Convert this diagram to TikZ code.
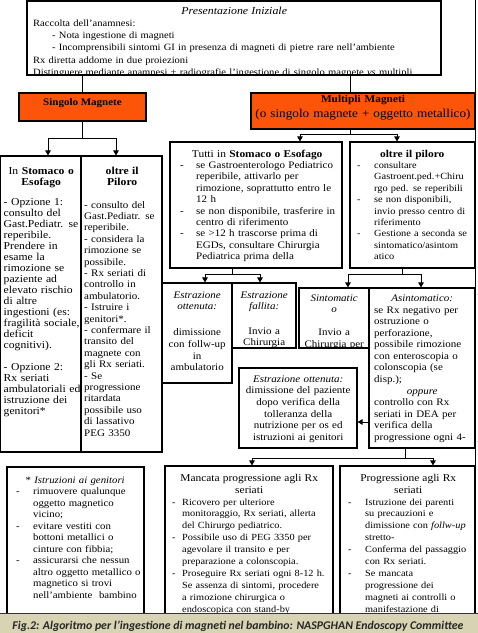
\documentclass[tikz,border=0pt]{standalone}
\usepackage{fontspec}
\setmainfont{Liberation Serif}[FakeStretch=1.1]
\newfontfamily\capfont{Carlito}
\usetikzlibrary{arrows.meta,fit}
\definecolor{orng}{RGB}{252,84,8}
\definecolor{khaki}{RGB}{216,211,178}
\newcommand\fsz[2]{\fontsize{#1}{#2}\selectfont}
\newcommand\jl[2]{\makebox[#1][s]{#2}}
\newcommand\dsh[2]{\makebox[#2][l]{\hspace*{#1}-}}
\begin{document}
\begin{tikzpicture}[x=1pt,y=-1pt,
  bx/.style={draw, line width=1.1pt, inner sep=0pt},
  ln/.style={line width=0.9pt},
  ar/.style={ln, -{Triangle[length=5pt,width=5.5pt]}},
  tx/.style={inner sep=0pt, anchor=north west, align=left},
  tc/.style={inner sep=0pt, anchor=north west, align=center}]
\useasboundingbox (0,0) rectangle (478,633);

% ---------- boxes ----------
\node[bx, fit={(27,1) (441,75)}] (init) {};
\node[bx, fill=orng, fit={(19,93) (146,121)}, font=\bfseries\fsz{10}{12}] (single) {Singolo Magnete};
\node[bx, fill=orng, fit={(251,93) (475,129)}, align=center, font=\fsz{12}{15}] (multi)
  {{\bfseries\fsz{10.3}{15}Multipli Magneti}\\(o singolo magnete + oggetto metallico)};
\node[bx, fit={(0.5,156) (81,452)}] (boxA) {};
\node[bx, fit={(81,156) (162,452)}] (boxB) {};
\node[bx, fit={(170,142) (342,268)}] (tutti) {};
\node[bx, fit={(350,142) (475,268)}] (oltreR) {};
\node[bx, fit={(162,283) (232,383)}] (estrOk) {};
\node[bx, fit={(232,283) (296,348)}] (estrKo) {};
\node[bx, fit={(299,288) (369,348)}] (sint) {};
\node[bx, fit={(369,288) (475,448)}] (asint) {};
\node[bx, fit={(239,368) (357,448)}] (estrMid) {};
\node[bx, fit={(7,467) (144,645)}] (istr) {};
\node[bx, fit={(165,466) (333,645)}] (manc) {};
\node[bx, fit={(340,466) (475,645)}] (progr) {};

% ---------- texts ----------
\begin{scope}
\clip (init.north west) rectangle (init.south east);
\node[tx, font=\fsz{9.6}{12.1}, text width=404pt] (initT) at (33,6.0) {\strut\makebox[402pt]{\fsz{10.8}{12.1}\itshape Presentazione Iniziale}\\
Raccolta dell’anamnesi:\\
\hspace*{19pt}- Nota ingestione di magneti\\
\hspace*{19pt}- Incomprensibili sintomi GI in presenza di magneti di pietre rare nell’ambiente\\
Rx diretta addome in due proiezioni\\
Distinguere mediante anamnesi + radiografie l’ingestione di singolo magnete \textit{vs} multipli};
\end{scope}

\node[tx, font=\fsz{10.6}{11}, text width=77pt] (boxAT) at (3.5,166.3) {\strut\makebox[75pt]{In \textbf{Stomaco o}}\\
\makebox[75pt]{\textbf{Esofago}}\\[9.5pt]
- Opzione 1:\\ consulto del\\ Gast.Pediatr. se\\ reperibile.\\ Prendere in\\ esame la\\ rimozione se\\ paziente ad\\ elevato rischio\\ di altre\\ ingestioni (es:\\ fragilità sociale,\\ deficit\\ cognitivi).\\[11pt]
- Opzione 2:\\ Rx seriati\\ ambulatoriali ed\\ istruzione dei\\ genitori*};

\node[tx, font=\fsz{10}{11.4}, text width=78pt] (boxBT) at (84,166) {\strut\makebox[76pt]{\fsz{10.6}{11.4}\textbf{oltre il}}\\
\makebox[76pt]{\fsz{10.6}{11.4}\textbf{Piloro}}\\[11.2pt]
- consulto del\\ Gast.Pediatr. se\\ reperibile.\\ - considera la\\ rimozione se\\ possibile.\\ - Rx seriati di\\ controllo in\\ ambulatorio.\\ - Istruire i\\ genitori*.\\ - confermare il\\ transito del\\ magnete con\\ gli Rx seriati.\\ - Se\\ progressione\\ ritardata\\ possibile uso\\ di lassativo\\ PEG 3350};

\node[tx, font=\fsz{10}{11.4}, text width=162pt] (tuttiT) at (178,149) {\strut\makebox[158pt]{\fsz{10.4}{11.4}Tutti in \textbf{Stomaco o Esofago}}\\
\dsh{2pt}{18pt}\jl{142pt}{se Gastroenterologo Pediatrico}\\
\hspace*{18pt}\jl{142pt}{reperibile, attivarlo per}\\
\hspace*{18pt}\jl{142pt}{rimozione, soprattutto entro le}\\
\hspace*{18pt}12 h\\
\dsh{2pt}{18pt}\jl{142pt}{se non disponibile, trasferire in}\\
\hspace*{18pt}centro di riferimento\\
\dsh{2pt}{18pt}se >12 h trascorse prima di\\
\hspace*{18pt}EGDs, consultare Chirurgia\\
\hspace*{18pt}Pediatrica prima della};

\node[tx, font=\fsz{9.4}{11.4}, text width=118pt] (oltreRT) at (355,149) {\strut\makebox[114pt]{\fsz{10.4}{11.4}\textbf{oltre il piloro}}\\
\dsh{2pt}{19pt}consultare\\
\hspace*{19pt}Gastroent.ped.+Chiru\\
\hspace*{19pt}rgo ped. se reperibili\\
\dsh{2pt}{19pt}\jl{96pt}{se non disponibili,}\\
\hspace*{19pt}invio presso centro di\\
\hspace*{19pt}riferimento\\
\dsh{2pt}{19pt}Gestione a seconda se\\
\hspace*{19pt}sintomatico/asintom\\
\hspace*{19pt}atico};

\node[tc, font=\fsz{10}{11.6}, text width=68pt] (estrOkT) at (163,289.9) {\strut\textit{Estrazione}\\ \textit{ottenuta:}\\[14.4pt] dimissione\\ con follw-up\\ in\\ ambulatorio};

\node[tc, font=\fsz{10}{11.6}, text width=62pt] (estrKoT) at (233,289.9) {\strut\textit{Estrazione}\\ \textit{fallita:}\\[12.6pt] Invio a\\ Chirurgia};

\begin{scope}
\clip (sint.north west) rectangle (sint.south east);
\node[tc, font=\fsz{10}{11.6}, text width=68pt] (sintT) at (300,292.9) {\strut\textit{Sintomatic}\\ \textit{o}\\[11pt] Invio a\\ Chirurgia per};
\end{scope}

\begin{scope}
\clip (asint.north west) rectangle (asint.south east);
\node[tx, font=\fsz{10}{11.55}, text width=100pt] (asintT) at (374,293.4) {\strut\makebox[96pt]{\itshape Asintomatico:}\\
se Rx negativo per\\ ostruzione o\\ perforazione,\\ possibile rimozione\\ con enteroscopia o\\ colonscopia (se\\ disp.);\\
\makebox[96pt]{\itshape oppure}\\
controllo con Rx\\ seriati in DEA per\\ verifica della\\ progressione ogni 4-};
\end{scope}

\node[tc, font=\fsz{10}{11.6}, text width=116pt] (estrMidT) at (240,373.9) {\strut\textit{Estrazione ottenuta:}\\ dimissione del paziente\\ dopo verifica della\\ tolleranza della\\ nutrizione per os ed\\ istruzioni ai genitori};

\node[tx, font=\fsz{9.8}{11.5}, text width=134pt] (istrT) at (10,474.9) {\strut\makebox[130pt]{* \textit{Istruzioni ai genitori}}\\
\dsh{6pt}{23pt}rimuovere qualunque\\
\hspace*{23pt}oggetto magnetico\\
\hspace*{23pt}vicino;\\
\dsh{6pt}{23pt}evitare vestiti con\\
\hspace*{23pt}bottoni metallici o\\
\hspace*{23pt}cinture con fibbia;\\
\dsh{6pt}{23pt}assicurarsi che nessun\\
\hspace*{23pt}altro oggetto metallico o\\
\hspace*{23pt}magnetico si trovi\\
\hspace*{23pt}nell’ambiente\ \ bambino};

\begin{scope}
\clip (0,440) rectangle (478,613);
\node[tx, font=\fsz{9.4}{11.9}, text width=164pt] (mancT) at (169,472.7) {\strut\makebox[160pt]{\fsz{10.4}{11.9}Mancata progressione agli Rx}\\
\makebox[160pt]{\fsz{10.4}{11.9}seriati}\\
\dsh{3pt}{13pt}Ricovero per ulteriore\\
\hspace*{13pt}monitoraggio, Rx seriati, allerta\\
\hspace*{13pt}del Chirurgo pediatrico.\\
\dsh{3pt}{13pt}Possibile uso di PEG 3350 per\\
\hspace*{13pt}agevolare il transito e per\\
\hspace*{13pt}preparazione a colonscopia.\\
\dsh{3pt}{13pt}Proseguire Rx seriati ogni 8-12 h.\\
\hspace*{13pt}Se assenza di sintomi, procedere\\
\hspace*{13pt}a rimozione chirurgica o\\
\hspace*{13pt}endoscopica con stand-by};
\node[tx, font=\fsz{9.4}{11.9}, text width=134pt] (progrT) at (343,472.7) {\strut\makebox[130pt]{\fsz{10.4}{11.9}Progressione agli Rx}\\
\makebox[130pt]{\fsz{10.4}{11.9}seriati}\\
\dsh{5pt}{22pt}Istruzione dei parenti\\
\hspace*{22pt}su precauzioni e\\
\hspace*{22pt}dimissione con \textit{follw-up}\\
\hspace*{22pt}stretto-\\
\dsh{5pt}{22pt}Conferma del passaggio\\
\hspace*{22pt}con Rx seriati.\\
\dsh{5pt}{22pt}Se mancata\\
\hspace*{22pt}progressione dei\\
\hspace*{22pt}magneti ai controlli o\\
\hspace*{22pt}manifestazione di};
\end{scope}

% ---------- connectors ----------
\coordinate (mJ) at (350,134);
\coordinate (mL) at (300,134);
\coordinate (mR) at (397,134);
\coordinate (sJ) at (82.5,138);
\coordinate (sL) at (48,138);
\coordinate (sR) at (116,138);
\coordinate (tJ) at (232,274);
\coordinate (tL) at (205,274);
\coordinate (tR) at (260,274);
\coordinate (oJ) at (402,274);
\coordinate (oL) at (348,274);
\coordinate (oR) at (421,274);
\coordinate (aW) at (369,422);
\coordinate (pJ) at (405,458);
\coordinate (pL) at (252,458);
\coordinate (pR) at (433,458);
\coordinate (rTop) at (475,0);

\draw[ln] (single.north |- init.south) -- (single.north);
\draw[ln] (init.south -| mJ) -- (multi.north -| mJ);
\draw[ln] (single.south) -- (sJ);
\draw[ln] (sL) -- (sR);
\draw[ar] (sL) -- (sL |- boxA.north);
\draw[ar] (sR) -- (sR |- boxB.north);
\draw[ln] (multi.south -| mJ) -- (mJ);
\draw[ln] (mL) -- (mR);
\draw[ar] (mL) -- (mL |- tutti.north);
\draw[ar] (mR) -- (mR |- oltreR.north);
\draw[ln] (tutti.south -| tJ) -- (tJ);
\draw[ln] (tL) -- (tR);
\draw[ar] (tL) -- (tL |- estrOk.north);
\draw[ar] (tR) -- (tR |- estrKo.north);
\draw[ln] (oltreR.south -| oJ) -- (oJ);
\draw[ln] (oL) -- (oR);
\draw[ar] (oL) -- (oL |- sint.north);
\draw[ar] (oR) -- (oR |- asint.north);
\draw[ar] (aW) -- (aW -| estrMid.east);
\draw[ln] (asint.south -| pJ) -- (pJ);
\draw[ln] (pL) -- (pR);
\draw[ar] (pL) -- (pL |- manc.north);
\draw[ar] (pR) -- (pR |- progr.north);
\draw[ln] (rTop) -- (rTop |- progr.north);

% ---------- caption ----------
\node[draw=black!80, line width=1pt, fill=khaki, inner sep=0pt, fit={(-2,613) (480,634)}] (cap) {};
\begin{scope}
\clip (0,613) rectangle (478,630.5);
\node[inner sep=0pt, anchor=base, font=\capfont\bfseries\itshape\fsz{11.8}{14}, text=black!85] (capT) at (238,629)
  {Fig.2: Algoritmo per l’ingestione di magneti nel bambino: NASPGHAN Endoscopy Committee};
\end{scope}
\end{tikzpicture}
\end{document}
